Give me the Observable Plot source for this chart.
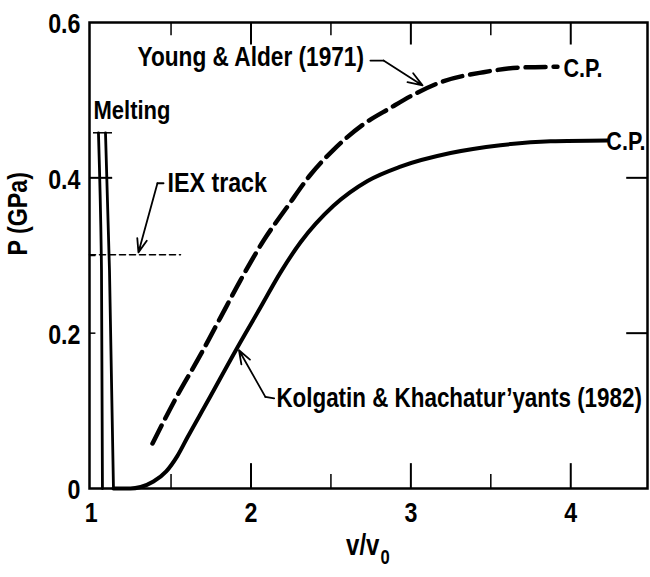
<!DOCTYPE html>
<html>
<head>
<meta charset="utf-8">
<script src="https://cdn.jsdelivr.net/npm/d3@7"></script>
<script src="https://cdn.jsdelivr.net/npm/@observablehq/plot@0.6"></script>
<style>
  html, body { margin: 0; padding: 0; background: #fff; }
  #chart svg { display: block; }
</style>
</head>
<body>
<div id="chart"></div>
<script>
// ---- data ----
const kolgatinV = [1.14, 1.246, 1.31, 1.39, 1.47, 1.54, 1.603, 1.728, 1.916, 2.059, 2.184, 2.31, 2.516, 2.729, 2.935, 3.248, 3.56, 3.873, 4.23];
const kolgatinP = [0, 0, 0.002, 0.009, 0.022, 0.042, 0.066, 0.112, 0.182, 0.233, 0.278, 0.317, 0.364, 0.396, 0.4145, 0.432, 0.442, 0.447, 0.448];

const youngV = [1.384, 1.54, 1.684, 1.809, 1.934, 2.078, 2.228, 2.372, 2.516, 2.704, 2.872, 3.016, 3.185, 3.454, 3.685, 3.917];
const youngP = [0.058, 0.12, 0.172, 0.22, 0.268, 0.319, 0.363, 0.404, 0.436, 0.469, 0.49, 0.507, 0.523, 0.536, 0.542, 0.543];

const meltA_V = [1.046, 1.065, 1.071];
const meltA_P = [0.458, 0.281, 0];
const meltB_V = [1.09, 1.115, 1.14];
const meltB_P = [0.458, 0.281, 0];

const iexV = [0.99, 1.559];
const iexP = 0.301;

const xTickLabels = [1, 2, 3, 4];
const xMajorTicks = [2, 3, 4];
const xMinorTicks = [1.5, 2.5, 3.5];
const yTickLabels = [0, 0.2, 0.4, 0.6];
const yTickText = ["0", "0.2", "0.4", "0.6"];

const font = "'Liberation Sans', Arial, sans-serif";
const condense = 0.83; // horizontal squeeze to imitate a condensed bold face

const kolgatin = kolgatinV.map((v, i) => ({v, p: kolgatinP[i]}));
const young = youngV.map((v, i) => ({v, p: youngP[i]}));
const meltA = meltA_V.map((v, i) => ({v, p: meltA_P[i]}));
const meltB = meltB_V.map((v, i) => ({v, p: meltB_P[i]}));
const iex = iexV.map(v => ({v, p: iexP}));

const txt = {fontFamily: font, fontWeight: "bold", fill: "black"};

const chart = Plot.plot({
  width: 650,
  height: 577,
  marginLeft: 89,
  marginRight: 3,
  marginTop: 22,
  marginBottom: 89,
  x: {domain: [0.99, 4.48], axis: null},
  y: {domain: [0, 0.6], axis: null},
  marks: [
    Plot.frame({stroke: "black", strokeWidth: 2.5}),
    // inward ticks, bottom
    Plot.ruleX(xMajorTicks, {y1: 0, y2: 0.032, stroke: "black", strokeWidth: 2}),
    Plot.ruleX(xMinorTicks, {y1: 0, y2: 0.018, stroke: "black", strokeWidth: 1.5}),
    // inward ticks, top
    Plot.ruleX(xMajorTicks, {y1: 0.6, y2: 0.571, stroke: "black", strokeWidth: 2}),
    Plot.ruleX(xMinorTicks, {y1: 0.6, y2: 0.583, stroke: "black", strokeWidth: 1.5}),
    // inward ticks, left and right
    Plot.ruleY([0.4], {x1: 0.99, x2: 1.135, stroke: "black", strokeWidth: 2}),
    Plot.ruleY([0.2, 0.3], {x1: 0.99, x2: 1.03, stroke: "black", strokeWidth: 1.5}),
    Plot.ruleY([0.2, 0.4], {x1: 4.48, x2: 4.35, stroke: "black", strokeWidth: 2}),
    // melting lines
    Plot.line(meltA, {x: "v", y: "p", stroke: "black", strokeWidth: 2.8, curve: "natural"}),
    Plot.line(meltB, {x: "v", y: "p", stroke: "black", strokeWidth: 2.8, curve: "natural"}),
    Plot.ruleY([0.458], {x1: 1.015, x2: 1.134, stroke: "black", strokeWidth: 1.5}),
    // IEX track
    Plot.line(iex, {x: "v", y: "p", stroke: "black", strokeWidth: 1.6, strokeDasharray: "6,4"}),
    // curves
    Plot.line(kolgatin, {x: "v", y: "p", stroke: "black", strokeWidth: 4, curve: "monotone-x"}),
    Plot.line(young, {x: "v", y: "p", stroke: "black", strokeWidth: 4.5, curve: "monotone-x", strokeDasharray: "20,8"}),
    // leaders
    Plot.line([{v: 1.453, p: 0.393}, {v: 1.415, p: 0.393}], {x: "v", y: "p", stroke: "black", strokeWidth: 1.8}),
    Plot.arrow([{x1: 1.415, y1: 0.393, x2: 1.296, y2: 0.304}], {x1: "x1", y1: "y1", x2: "x2", y2: "y2", stroke: "black", strokeWidth: 1.8, headLength: 12, headAngle: 40}),
    Plot.line([{v: 2.747, p: 0.551}, {v: 2.829, p: 0.551}], {x: "v", y: "p", stroke: "black", strokeWidth: 1.8}),
    Plot.arrow([{x1: 2.829, y1: 0.551, x2: 3.073, y2: 0.519}], {x1: "x1", y1: "y1", x2: "x2", y2: "y2", stroke: "black", strokeWidth: 1.8, headLength: 14, headAngle: 40}),
    Plot.line([{v: 2.145, p: 0.116}, {v: 2.09, p: 0.118}], {x: "v", y: "p", stroke: "black", strokeWidth: 1.8}),
    Plot.arrow([{x1: 2.09, y1: 0.118, x2: 1.925, y2: 0.178}], {x1: "x1", y1: "y1", x2: "x2", y2: "y2", stroke: "black", strokeWidth: 1.8, headLength: 12, headAngle: 40}),
    // annotations
    Plot.text(["Melting"], {x: 1.015, y: 0.487, textAnchor: "start", fontSize: 26.5, ...txt}),
    Plot.text(["IEX track"], {x: 1.478, y: 0.393, textAnchor: "start", fontSize: 28, ...txt}),
    Plot.text(["Young & Alder (1971)"], {x: 1.29, y: 0.555, textAnchor: "start", fontSize: 27.3, ...txt}),
    Plot.text(["C.P."], {x: 3.954, y: 0.541, textAnchor: "start", fontSize: 26, ...txt}),
    Plot.text(["C.P."], {x: 4.48, y: 0.446, dx: -2, textAnchor: "end", fontSize: 26, ...txt}),
    Plot.text(["Kolgatin & Khachatur\u2019yants (1982)"], {x: 2.159, y: 0.116, textAnchor: "start", fontSize: 27, ...txt}),
    // tick labels
    Plot.text(xTickLabels, {x: d => d, y: 0, dy: 25, text: d => String(d), textAnchor: "middle", fontSize: 28, ...txt}),
    Plot.text(yTickLabels, {x: 0.99, y: d => d, dx: -9, dy: 2, text: (d, i) => yTickText[i], textAnchor: "end", fontSize: 28, ...txt}),
    // axis titles
    Plot.text(["P (GPa)"], {frameAnchor: "left", dx: -71, rotate: -90, fontSize: 28, ...txt}),
    Plot.text(["v/v"], {frameAnchor: "bottom", dx: 11, dy: 66, textAnchor: "end", fontSize: 29, ...txt}),
    Plot.text(["0"], {frameAnchor: "bottom", dx: 12, dy: 75, textAnchor: "start", fontSize: 20, ...txt})
  ]
});

// squeeze every text horizontally around its own anchor
chart.querySelectorAll("text").forEach(t => {
  const tr = t.getAttribute("transform");
  const x = +(t.getAttribute("x") || 0), y = +(t.getAttribute("y") || 0);
  let base = tr ? tr : "";
  if (x || y) {
    base = (base ? base + " " : "") + `translate(${x},${y})`;
    t.removeAttribute("x");
    t.removeAttribute("y");
  }
  t.setAttribute("transform", (base ? base + " " : "") + `scale(${condense},1)`);
});

document.getElementById("chart").appendChild(chart);
</script>
</body>
</html>
